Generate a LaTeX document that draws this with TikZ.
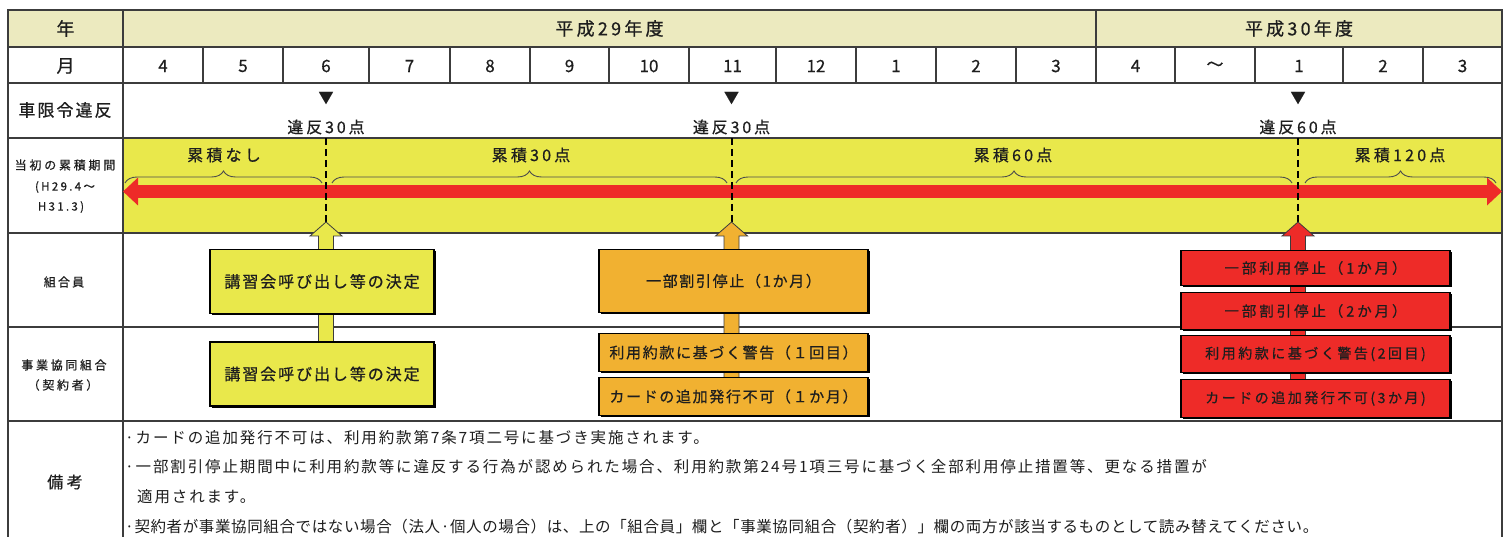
\documentclass[tikz,border=0pt]{standalone}
\usepackage{fontspec}
\setmainfont{Noto Sans CJK JP}
\newfontfamily\medf{Noto Sans CJK JP}[FakeBold=0.6]
\usetikzlibrary{calc,decorations.pathreplacing,shadows,arrows.meta}
\definecolor{hdr}{HTML}{ECEABF}
\definecolor{band}{HTML}{E9E84B}
\definecolor{org}{HTML}{F1B131}
\definecolor{rd}{HTML}{EE2B28}
\definecolor{grid}{HTML}{3C3C3C}
\definecolor{ink}{HTML}{1E1E1E}
\newcommand\fsz[2]{\medf\fontsize{#1}{#1}\selectfont\addfontfeature{LetterSpace=#2}}
\newcommand\nsz[2]{\fontsize{#1}{#1}\selectfont\addfontfeature{LetterSpace=#2}}
\pgfdeclarelayer{back}
\pgfdeclarelayer{mid}
\pgfsetlayers{back,mid,main}
\tikzset{
  gridline/.style={draw=grid, line width=1.3pt},
  lbl/.style={text=ink, inner sep=0pt},
  box/.style={draw=black, line width=1.1pt, inner sep=0pt, text=ink,
    drop shadow={shadow xshift=1.6pt,shadow yshift=-1.6pt,fill=black,opacity=1}},
  ybox/.style={box, fill=band, minimum width=224pt, minimum height=64pt, font=\fsz{16}{12}},
  obox/.style={box, fill=org, minimum width=269pt, font=\fsz{15}{11}},
  rbox/.style={box, fill=rd, minimum width=269pt, font=\fsz{14.5}{20}},
  blk/.style={draw=grid, line width=0.8pt},
  vdash/.style={draw=black, line width=2pt, dash pattern=on 7pt off 4pt},
  brc/.style={draw=black!70, line width=0.9pt, decorate, decoration={brace, amplitude=12pt, aspect=0.5}},
  note/.style={lbl, anchor=west, font=\nsz{15.5}{12}}
}
\begin{document}
\begin{tikzpicture}[x=1pt,y=-1pt]
\useasboundingbox (0,0) rectangle (1507,537);

% ---------- background layer: fills, grid, bar, braces, dashes
\begin{pgfonlayer}{back}
\fill[white] (0,0) rectangle (1507,537);
\fill[hdr] (8,10) rectangle (1502,47);
\fill[band] (123,138) rectangle (1502,233);
\foreach \yy in {47,83,138,233,327,421} \draw[gridline] (8,\yy) -- (1502,\yy);
\draw[gridline] (8,537) -- (8,10) -- (1502,10) -- (1502,537);
\draw[gridline] (123,10) -- (123,537);
\draw[gridline] (1096,10) -- (1096,47);
\foreach \xx in {203,283,369,450,530,609,689,776,856,936,1016,1096,1175,1255,1343,1423}
  \draw[gridline] (\xx,47) -- (\xx,83);
\coordinate (barL) at (123,191.5);
\coordinate (barR) at (1502,191.5);
\draw[rd, line width=13pt, {Triangle[width=27pt,length=15pt]}-{Triangle[width=27pt,length=15pt]}] (barL) -- (barR);
\draw[brc] (125,183) -- (322,183);
\draw[brc] (332,183) -- (727,183);
\draw[brc] (736,183) -- (1292,183);
\draw[brc] (1305,183) -- (1496,183);
\coordinate (tipY) at (326,222);
\coordinate (tipO) at (731.5,222);
\coordinate (tipR) at (1298,222);
\draw[vdash] (326,138) -- (tipY);
\draw[vdash] (731.5,138) -- (tipO);
\draw[vdash] (1298,138) -- (tipR);
\end{pgfonlayer}

% ---------- header texts
\node[lbl, font=\fsz{18}{0}] (nen) at (65.5,28.5) {年};
\node[lbl, font=\fsz{18}{18}] (h29) at (609.5,28.5) {平成29年度};
\node[lbl, font=\fsz{18}{18}] (h30) at (1299,28.5) {平成30年度};
\node[lbl, font=\fsz{18}{0}] (tsuki) at (65.5,66) {月};
\foreach \a/\b/\t [count=\i] in {123/203/4,203/283/5,283/369/6,369/450/7,450/530/8,530/609/9,609/689/10,689/776/11,776/856/12,856/936/1,936/1016/2,1016/1096/3,1096/1175/4,1175/1255/～,1255/1343/1,1343/1423/2,1423/1502/3}
  \node[lbl, font=\fsz{17}{0}] (m\i) at ({(\a+\b)/2},66) {\t};

\node[lbl, font=\fsz{17}{12}] (ihan) at (65,110) {車限令違反};
\node[lbl, font=\fsz{12}{23}] (kikan1) at (65,165) {当初の累積期間};
\node[lbl, font=\fsz{11.5}{20}] (kikan2) at (65,187) {(H29.4～};
\node[lbl, font=\fsz{11.5}{20}] (kikan3) at (61,207) {H31.3)};
\node[lbl, font=\fsz{12}{18}] (kumiai) at (64,282) {組合員};
\node[lbl, font=\fsz{12}{22}] (jigyo1) at (64,365) {事業協同組合};
\node[lbl, font=\fsz{12}{22}] (jigyo2) at (63,385) {（契約者）};
\node[lbl, font=\fsz{16}{22}] (biko) at (65,482) {備考};

% ---------- violation marks
\foreach \x/\t/\n in {326/違反30点/a,731.5/違反30点/b,1298/違反60点/c}{
  \node[lbl, font=\fsz{15}{0}] (tri\n) at (\x,98) {▼};
  \node[lbl, font=\fsz{16}{18}] (pt\n) at (\x,127) {\t};
}
\node[lbl, font=\fsz{16}{20}] (r0) at (224,155) {累積なし};
\node[lbl, font=\fsz{16}{20}] (r30) at (531,155) {累積30点};
\node[lbl, font=\fsz{16}{20}] (r60) at (1013,155) {累積60点};
\node[lbl, font=\fsz{16}{20}] (r120) at (1400,155) {累積120点};

% ---------- boxes
\node[ybox] (yb1) at (322,281.5) {講習会呼び出し等の決定};
\node[ybox] (yb2) at (322,374) {講習会呼び出し等の決定};
\node[obox, minimum height=63pt] (ob1) at (733.5,281) {一部割引停止（1か月）};
\node[obox, minimum height=38pt] (ob2) at (733.5,352.5) {利用約款に基づく警告（１回目）};
\node[obox, minimum height=38pt] (ob3) at (733.5,396.5) {カードの追加発行不可（１か月）};
\node[rbox, minimum height=35pt] (rb1) at (1315.5,268) {一部利用停止（1か月）};
\node[rbox, minimum height=37pt] (rb2) at (1315.5,311) {一部割引停止（2か月）};
\node[rbox, minimum height=37pt, font=\fsz{14}{18}] (rb3) at (1315.5,354) {利用約款に基づく警告(2回目)};
\node[rbox, minimum height=38pt, font=\fsz{14}{18}] (rb4) at (1315.5,398.5) {カードの追加発行不可(3か月)};

% ---------- block arrows (behind boxes)
\begin{pgfonlayer}{mid}
\foreach \tip/\base/\col in {tipY/yb2/band,tipO/ob3/org,tipR/rb4/rd}{
  \draw[blk, fill=\col] ($(\tip |- \base.center)+(-7.5,0)$) -- ($(\tip)+(-7.5,14)$) -- ($(\tip)+(-16,14)$)
    -- (\tip) -- ($(\tip)+(16,14)$) -- ($(\tip)+(7.5,14)$) -- ($(\tip |- \base.center)+(7.5,0)$) -- cycle;
}
\end{pgfonlayer}

% ---------- notes
\node[note] (n1) at (125,438) {·カードの追加発行不可は、利用約款第7条7項二号に基づき実施されます。};
\node[note] (n2) at (125,467) {·一部割引停止期間中に利用約款等に違反する行為が認められた場合、利用約款第24号1項三号に基づく全部利用停止措置等、更なる措置が};
\node[note] (n3) at (137,497) {適用されます。};
\node[note, font=\nsz{15.5}{4}] (n4) at (125,527) {·契約者が事業協同組合ではない場合（法人·個人の場合）は、上の「組合員」欄と「事業協同組合（契約者）」欄の両方が該当するものとして読み替えてください。};
\end{tikzpicture}
\end{document}
